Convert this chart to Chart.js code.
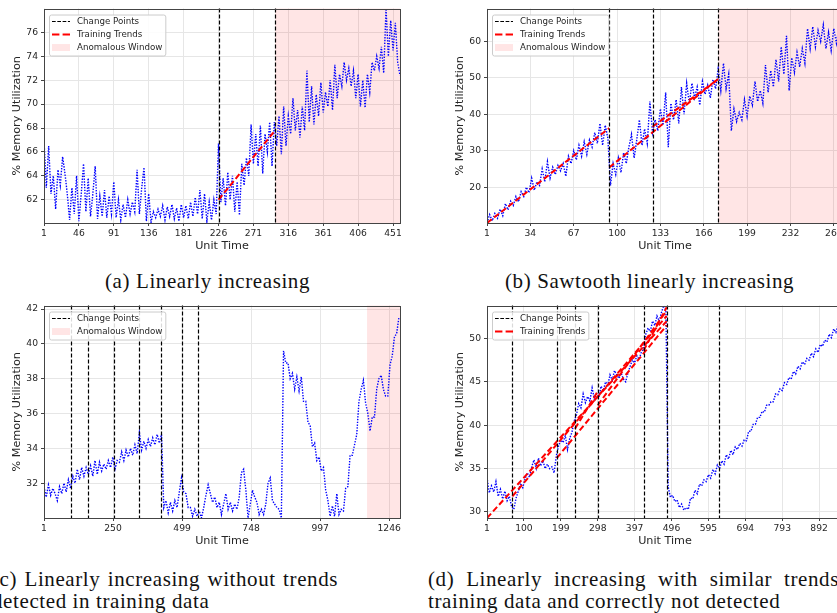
<!DOCTYPE html>
<html>
<head>
<meta charset="utf-8">
<script src="https://cdn.jsdelivr.net/npm/chart.js@4.4.1/dist/chart.umd.min.js"></script>
<style>
  html, body { margin: 0; padding: 0; background: #fff; width: 837px; height: 613px; overflow: hidden; }
  canvas { position: absolute; }
  .cap { position: absolute; font-family: "Liberation Serif", serif; font-size: 21px; letter-spacing: 0.6px;
         line-height: 22px; color: #111; white-space: nowrap; }
</style>
</head>
<body>
<canvas id="chartA" width="410" height="260" style="left:0;top:0"></canvas>
<canvas id="chartB" width="410" height="260" style="left:443px;top:0"></canvas>
<canvas id="chartC" width="410" height="258" style="left:0;top:297px"></canvas>
<canvas id="chartD" width="410" height="258" style="left:443px;top:297px"></canvas>

<div class="cap" style="left:105px;top:270px">(a) Linearly increasing</div>
<div class="cap" style="left:505px;top:270px">(b) Sawtooth linearly increasing</div>
<div class="cap" style="left:-8px;top:568px;word-spacing:1.5px">(c) Linearly increasing without trends</div>
<div class="cap" style="left:-8px;top:590px">detected in training data</div>
<div class="cap" style="left:428px;top:568px;word-spacing:6px">(d) Linearly increasing with similar trends in</div>
<div class="cap" style="left:428px;top:590px">training data and correctly not detected</div>

<script>
// (a) Linearly increasing -- one sample every 3 time units
const aStart = 1, aStep = 3;
const aValues = [
  67.0, 63.0, 66.5, 62.5, 64.0, 61.2, 64.5, 63.2, 65.6, 64.2,
  62.5, 60.3, 63.0, 60.8, 64.0, 60.2, 62.5, 65.0, 61.0, 63.8,
  60.6, 62.5, 64.8, 60.4, 62.3, 60.6, 62.8, 60.5, 62.3, 60.8,
  63.5, 60.5, 62.0, 60.3, 61.6, 60.5, 62.0, 60.8, 61.8, 61.0,
  64.5, 60.8, 63.0, 64.7, 60.2, 62.5, 60.1, 61.0, 60.5, 61.2,
  60.6, 61.5, 60.3, 61.4, 60.6, 61.6, 60.4, 61.3, 60.2, 61.6,
  60.5, 61.5, 60.4, 61.8, 60.6, 62.2, 60.8, 62.8, 60.4, 62.5,
  60.2, 61.8, 60.3, 62.0, 60.8, 66.7, 61.8, 63.8, 61.5, 64.3,
  62.0, 64.0, 61.0, 63.5, 60.7, 65.0, 63.2, 65.5, 64.0, 68.3,
  65.0, 67.5, 64.8, 68.2, 64.2, 67.5, 66.0, 68.5, 64.8, 68.5,
  66.5, 69.0, 65.8, 69.8, 66.5, 69.0, 67.5, 70.5, 67.8, 69.5,
  67.2, 69.8, 67.8, 72.8, 68.5, 71.5, 68.3, 70.8, 69.0, 71.8,
  69.3, 71.0, 69.8, 72.0, 69.5, 73.3, 70.5, 72.5, 71.5, 73.5,
  72.0, 73.0, 71.5, 72.8, 70.5, 72.5, 69.8, 72.0, 69.7, 72.5,
  71.0, 73.5, 72.8, 74.0, 73.0, 74.8, 72.6, 78.0, 74.0, 77.0,
  74.5, 76.8, 73.5, 72.4
];
const aChangePoints = [226, 299];
const aWindow = [299, 460];
const aTrends = [[226, 62.0, 299, 67.8]];
const aXTicks = [1, 46, 91, 136, 181, 226, 271, 316, 361, 406, 451];
const aYTicks = [62, 64, 66, 68, 70, 72, 74, 76];
const aXRange = [1, 460], aYRange = [60.05, 78];

// (b) Sawtooth linearly increasing -- one sample every 2 time units
const bStart = 1, bStep = 2;
const bValues = [
  10.2, 12.5, 10.8, 12.8, 11.5, 14.0, 12.2, 15.5, 13.8, 16.2,
  15.0, 17.5, 16.0, 18.8, 17.5, 20.0, 18.5, 22.5, 19.2, 21.5,
  20.5, 25.0, 21.5, 27.0, 22.5, 25.5, 23.5, 26.0, 24.5, 26.5,
  23.0, 28.5, 26.5, 30.0, 27.5, 31.5, 28.5, 32.5, 29.0, 33.0,
  31.0, 35.0, 32.0, 37.5, 31.5, 37.0, 33.5, 20.5, 26.5, 23.5,
  28.0, 24.0, 29.5, 26.5, 31.0, 34.5, 28.0, 33.0, 38.5, 31.5,
  36.0, 32.0, 43.5, 35.0, 38.5, 35.5, 41.5, 37.0, 46.0, 31.0,
  43.0, 38.5, 44.0, 37.5, 47.5, 40.0, 48.5, 43.0, 48.5, 44.5,
  47.5, 42.5, 49.0, 45.5, 48.0, 44.5, 49.5, 47.0, 52.5, 46.5,
  54.0, 47.0, 51.0, 35.5, 41.5, 38.0, 40.5, 38.5, 44.0, 39.5,
  45.0, 42.5, 49.0, 43.5, 46.5, 43.0, 53.5, 46.0, 52.0, 47.5,
  55.0, 49.0, 58.5, 51.0, 61.5, 46.5, 55.5, 51.5, 57.0, 53.0,
  58.0, 54.0, 63.5, 58.0, 64.0, 58.5, 63.0, 60.0, 64.5, 58.0,
  62.5, 57.5, 63.5, 59.5, 64.5, 65.5
];
const bChangePoints = [94, 127, 177];
const bWindow = [177, 272];
const bTrends = [[1, 10.2, 94, 36.2], [94, 25.4, 177, 49.7], [127, 36.6, 177, 49.6]];
const bXTicks = [1, 34, 67, 100, 133, 166, 199, 232, 265];
const bYTicks = [20, 30, 40, 50, 60];
const bXRange = [1, 272], bYRange = [10.2, 69];

// (c) Linearly increasing without trends detected -- one sample every 8 time units
const cStart = 1, cStep = 8;
const cValues = [
  31.8, 31.2, 31.9, 31.3, 31.7, 31.4, 31.0, 31.8, 31.4, 32.0,
  31.5, 32.2, 31.7, 32.4, 32.0, 32.8, 32.2, 32.9, 32.4, 32.9,
  32.5, 33.0, 32.4, 33.3, 32.5, 33.2, 32.7, 33.1, 32.8, 33.3,
  32.9, 33.5, 32.8, 33.3, 33.2, 33.8, 33.3, 33.9, 33.5, 34.0,
  33.6, 34.2, 33.7, 34.9, 33.9, 34.4, 34.0, 34.5, 34.1, 34.6,
  34.2, 34.8, 34.3, 34.8, 30.6, 31.0, 30.3, 30.9, 30.4, 31.0,
  30.6, 31.5, 32.3, 31.5, 31.4, 30.6, 30.6, 30.1, 30.5, 30.1,
  30.4, 30.0, 30.6, 31.3, 31.9, 31.4, 30.9, 31.2, 30.6, 30.9,
  30.2, 30.8, 31.4, 30.5, 30.9, 30.4, 30.8, 30.5, 31.2, 32.6,
  32.8, 31.6, 30.0, 30.8, 31.6, 31.2, 30.9, 30.2, 30.5, 30.2,
  30.8, 32.0, 32.3, 31.0, 30.8, 30.6, 30.5, 30.0, 39.6, 38.9,
  38.9, 38.0, 38.3, 37.4, 38.1, 37.3, 38.1, 36.7, 36.7, 35.5,
  35.3, 34.1, 34.3, 33.3, 33.5, 32.7, 32.9, 31.6, 31.0, 30.1,
  30.7, 30.1, 31.4, 30.2, 30.5, 30.4, 31.7, 31.8, 33.6, 33.6,
  34.2, 34.8, 36.7, 37.4, 37.9, 36.6, 36.0, 35.0, 35.8, 35.8,
  37.4, 38.0, 38.2, 37.4, 37.0, 37.0, 38.8, 39.3, 40.4, 40.6,
  41.5
];
const cChangePoints = [97, 161, 252, 343, 423, 498, 558];
const cWindow = [1166, 1285];
const cTrends = [];
const cXTicks = [1, 250, 499, 748, 997, 1246];
const cYTicks = [32, 34, 36, 38, 40, 42];
const cXRange = [1, 1285], cYRange = [30.0, 42.2];

// (d) Linearly increasing with similar trends -- one sample every 6 time units
const dStart = 1, dStep = 6;
const dValues = [
  34.0, 32.2, 33.0, 32.3, 33.5, 31.8, 32.6, 31.5, 32.4, 31.3,
  31.8, 30.6, 30.3, 31.6, 32.4, 33.3, 32.8, 33.8, 34.5, 34.0,
  35.2, 36.0, 35.0, 36.2, 35.3, 35.9, 35.0, 35.5, 35.0, 35.2,
  34.5, 36.5, 37.6, 38.3, 38.0, 38.8, 37.2, 38.5, 39.2, 40.5,
  41.2, 42.5, 42.0, 43.6, 42.6, 43.3, 42.8, 44.3, 43.0, 43.6,
  43.2, 44.5, 44.0, 45.0, 44.6, 45.8, 45.2, 46.3, 45.8, 45.4,
  46.0, 45.3, 45.0, 46.0, 46.8, 47.5, 47.2, 48.0, 47.6, 48.4,
  48.8, 50.5, 51.2, 50.8, 52.0, 51.5, 52.6, 52.0, 53.0, 53.8,
  53.2, 32.9, 31.7, 31.9, 31.2, 31.4, 30.5, 30.9, 30.2, 30.5,
  30.3, 31.6, 31.5, 32.5, 32.1, 33.2, 33.0, 33.7, 33.5, 34.3,
  33.9, 34.9, 34.4, 35.4, 35.0, 35.9, 35.5, 36.6, 36.1, 37.1,
  36.6, 37.5, 37.2, 37.9, 37.6, 38.3, 38.2, 39.3, 39.3, 40.1,
  40.1, 40.9, 40.9, 41.6, 41.5, 42.3, 42.3, 42.7, 42.7, 43.6,
  43.5, 44.2, 44.0, 44.9, 44.7, 45.5, 45.3, 46.2, 45.9, 46.8,
  46.5, 47.3, 47.0, 47.7, 47.5, 48.3, 47.9, 48.8, 48.4, 49.3,
  49.1, 49.8, 49.6, 50.5, 50.1, 51.1, 50.7, 51.6, 51.3, 52.0
];
const dChangePoints = [69, 188, 237, 298, 421, 483, 623];
const dWindow = null;
const dTrends = [
  [1, 29.3, 483, 52.0], [69, 31.8, 483, 52.6], [188, 36.2, 483, 51.5],
  [237, 39.6, 298, 43.9], [298, 42.3, 483, 53.2], [421, 48.6, 483, 53.6]
];
const dXTicks = [1, 100, 199, 298, 397, 496, 595, 694, 793, 892];
const dYTicks = [30, 35, 40, 45, 50];
const dXRange = [1, 956], dYRange = [29.3, 53.8];

const FONT = 'DejaVu Sans';
const TEXT = '#262626';

// anomalous window, change points, frame and legend box
const marks = {
  id: 'marks',
  beforeDatasetsDraw(chart, args, opts) {
    if (!opts.window) return;
    const { ctx, chartArea: a, scales: { x } } = chart;
    const x0 = Math.max(a.left, x.getPixelForValue(opts.window[0]));
    const x1 = Math.min(a.right, x.getPixelForValue(opts.window[1]));
    ctx.save();
    ctx.fillStyle = 'rgba(255,0,0,0.1)';
    ctx.fillRect(x0, a.top, x1 - x0, a.bottom - a.top);
    ctx.restore();
  },
  afterDatasetsDraw(chart, args, opts) {
    const { ctx, chartArea: a, scales: { x } } = chart;
    ctx.save();
    ctx.strokeStyle = '#000';
    ctx.lineWidth = 1.2;
    ctx.setLineDash([4, 2]);
    (opts.changes || []).forEach(cp => {
      const px = Math.round(x.getPixelForValue(cp)) + 0.5;
      ctx.beginPath();
      ctx.moveTo(px, a.top);
      ctx.lineTo(px, a.bottom);
      ctx.stroke();
    });
    ctx.setLineDash([]);
    ctx.strokeStyle = '#444';
    ctx.lineWidth = 1;
    ctx.strokeRect(Math.round(a.left) + 0.5, Math.round(a.top) + 0.5,
                   Math.round(a.right - a.left), Math.round(a.bottom - a.top));

    // legend
    const items = opts.legend || [];
    ctx.font = '8.7px "' + FONT + '"';
    const tw = Math.max(...items.map(it => ctx.measureText(it.label).width));
    const bx = a.left + 5, by = a.top + 6, bw = 28 + tw + 3, bh = items.length * 13 + 2;
    ctx.fillStyle = 'rgba(255,255,255,0.85)';
    ctx.strokeStyle = '#cccccc';
    ctx.beginPath();
    ctx.roundRect(bx + 0.5, by + 0.5, bw, bh, 2);
    ctx.fill();
    ctx.stroke();
    items.forEach((it, i) => {
      const cy = by + 7 + i * 13;
      if (it.kind === 'patch') {
        ctx.fillStyle = 'rgba(255,0,0,0.1)';
        ctx.fillRect(bx + 3, cy - 3.5, 18, 7);
      } else {
        ctx.strokeStyle = it.color;
        ctx.lineWidth = it.width;
        ctx.setLineDash(it.dash);
        ctx.beginPath();
        ctx.moveTo(bx + 3, cy);
        ctx.lineTo(bx + 21, cy);
        ctx.stroke();
        ctx.setLineDash([]);
      }
      ctx.fillStyle = TEXT;
      ctx.textBaseline = 'middle';
      ctx.fillText(it.label, bx + 28, cy);
    });
    ctx.restore();
  }
};

const LEG_CP = { kind: 'line', label: 'Change Points', color: '#000', width: 1.2, dash: [3.7, 1.6] };
const LEG_TR = { kind: 'line', label: 'Training Trends', color: '#ff0000', width: 2, dash: [7.4, 3.2] };
const LEG_AW = { kind: 'patch', label: 'Anomalous Window' };

function buildChart(id, s) {
  const datasets = [];
  s.trends.forEach(t => datasets.push({
    data: [{ x: t[0], y: t[1] }, { x: t[2], y: t[3] }],
    borderColor: '#ff0000', borderWidth: 2, borderDash: [6, 3], pointRadius: 0
  }));
  datasets.push({
    data: s.values.map((v, i) => ({ x: s.start + i * s.step, y: v })),
    borderColor: '#0000ff', borderWidth: 1.4, borderDash: [1.4, 1.4], pointRadius: 0
  });

  const tickFont = { family: FONT, size: 9.2 };
  const titleFont = { family: FONT, size: 11.2 };

  new Chart(document.getElementById(id), {
    type: 'line',
    data: { datasets },
    plugins: [marks],
    options: {
      responsive: false,
      animation: false,
      events: [],
      layout: { padding: { top: 5, right: 10, left: 0, bottom: 0 } },
      plugins: {
        legend: { display: false },
        tooltip: { enabled: false },
        marks: { window: s.window, changes: s.changes, legend: s.legend }
      },
      scales: {
        x: {
          type: 'linear', min: s.xRange[0], max: s.xRange[1],
          afterBuildTicks: sc => { sc.ticks = s.xTicks.map(v => ({ value: v })); },
          afterFit: sc => { sc.height = 37; },
          grid: { color: '#e6e6e6', tickColor: '#444', tickLength: 3 },
          border: { display: false },
          ticks: { autoSkip: false, maxRotation: 0, minRotation: 0, padding: 2, color: TEXT,
                   font: tickFont, callback: v => String(v) },
          title: { display: true, text: 'Unit Time', color: TEXT, font: titleFont,
                   padding: { top: 0, bottom: 7.3 } }
        },
        y: {
          type: 'linear', min: s.yRange[0], max: s.yRange[1],
          afterBuildTicks: sc => { sc.ticks = s.yTicks.map(v => ({ value: v })); },
          afterFit: sc => { sc.width = 44; },
          grid: { color: '#e6e6e6', tickColor: '#444', tickLength: 3 },
          border: { display: false },
          ticks: { autoSkip: false, padding: 3, color: TEXT, font: tickFont, callback: v => String(v) },
          title: { display: true, text: '% Memory Utilization', color: TEXT, font: titleFont,
                   padding: { top: 10.3, bottom: 0 } }
        }
      }
    }
  });
}

buildChart('chartA', { start: aStart, step: aStep, values: aValues, changes: aChangePoints, window: aWindow,
  trends: aTrends, xTicks: aXTicks, yTicks: aYTicks, xRange: aXRange, yRange: aYRange,
  legend: [LEG_CP, LEG_TR, LEG_AW] });
buildChart('chartB', { start: bStart, step: bStep, values: bValues, changes: bChangePoints, window: bWindow,
  trends: bTrends, xTicks: bXTicks, yTicks: bYTicks, xRange: bXRange, yRange: bYRange,
  legend: [LEG_CP, LEG_TR, LEG_AW] });
buildChart('chartC', { start: cStart, step: cStep, values: cValues, changes: cChangePoints, window: cWindow,
  trends: cTrends, xTicks: cXTicks, yTicks: cYTicks, xRange: cXRange, yRange: cYRange,
  legend: [LEG_CP, LEG_AW] });
buildChart('chartD', { start: dStart, step: dStep, values: dValues, changes: dChangePoints, window: dWindow,
  trends: dTrends, xTicks: dXTicks, yTicks: dYTicks, xRange: dXRange, yRange: dYRange,
  legend: [LEG_CP, LEG_TR] });
</script>
</body>
</html>
